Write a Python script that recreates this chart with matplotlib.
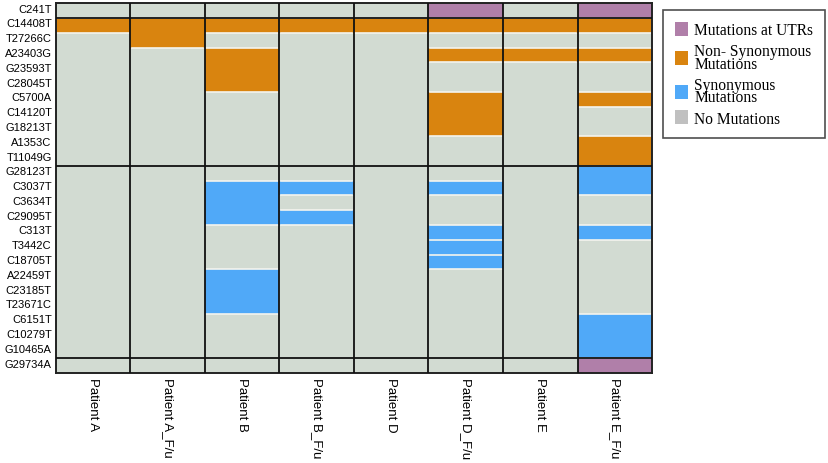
import matplotlib
matplotlib.use('Agg')
import matplotlib.pyplot as plt
from matplotlib.colors import ListedColormap
from matplotlib.patches import Patch
import numpy as np

mutations = ['C241T', 'C14408T', 'T27266C', 'A23403G', 'G23593T', 'C28045T',
             'C5700A', 'C14120T', 'G18213T', 'A1353C', 'T11049G', 'G28123T',
             'C3037T', 'C3634T', 'C29095T', 'C313T', 'T3442C', 'C18705T',
             'A22459T', 'C23185T', 'T23671C', 'C6151T', 'C10279T', 'G10465A',
             'G29734A']
patients = ['Patient A', 'Patient A_F/u', 'Patient B', 'Patient B_F/u',
            'Patient D', 'Patient D_F/u', 'Patient E', 'Patient E_F/u']

# U = UTR, N = non-synonymous, S = synonymous, . = none (top to bottom)
status = {
    'Patient A':     '.N.......................',
    'Patient A_F/u': '.NN......................',
    'Patient B':     '.N.NNN......SSS...SSS....',
    'Patient B_F/u': '.N..........S.S..........',
    'Patient D':     '.N.......................',
    'Patient D_F/u': 'UN.N..NNN...S..SSS.......',
    'Patient E':     '.N.N.....................',
    'Patient E_F/u': 'UN.N..N..NNSS..S.....SSSU',
}
group_breaks = [1, 11, 24]

codes = {'.': 0, 'U': 1, 'N': 2, 'S': 3}
colors = ['#d2dbd2', '#b07fa9', '#d9840f', '#50a9f8']

mat = np.array([[codes[ch] for ch in status[p]] for p in patients]).T

fig = plt.figure(figsize=(8.29, 4.64), dpi=100)
ax = fig.add_axes([0.0675, 0.194, 0.719, 0.797])
ax.pcolormesh(np.arange(len(patients) + 1), np.arange(len(mutations) + 1), mat,
              cmap=ListedColormap(colors), vmin=-0.5, vmax=3.5)
ax.set_xlim(0, len(patients))
ax.set_ylim(len(mutations), 0)

# light separators where a cell changes colour
for c in range(len(patients)):
    for r in range(len(mutations) - 1):
        if mat[r, c] != mat[r + 1, c] or mat[r, c] == 3 and c == 5:
            ax.plot([c + 0.02, c + 0.98], [r + 1, r + 1], color='#f4f4ee', lw=1.2, zorder=2)

for c in range(1, len(patients)):
    ax.axvline(c, color='#111111', lw=1.3, zorder=3)
for r in group_breaks:
    ax.axhline(r, color='#111111', lw=1.3, zorder=3)

for s in ax.spines.values():
    s.set_color('#222222')
    s.set_linewidth(1.4)

ax.set_xticks(np.arange(len(patients)) + 0.5)
ax.set_xticklabels(patients, rotation=270, fontsize=9.5, family='Liberation Sans',
                   va='top', ha='center')
ax.set_yticks(np.arange(len(mutations)) + 0.3)
ax.set_yticklabels(mutations, fontsize=8, family='Liberation Sans')
ax.tick_params(length=0, pad=3)

handles = [Patch(facecolor='#b07fa9', edgecolor='none', label='Mutations at UTRs'),
           Patch(facecolor='#d9840f', edgecolor='none', label='Non- Synonymous\nMutations'),
           Patch(facecolor='#50a9f8', edgecolor='none', label='Synonymous\nMutations'),
           Patch(facecolor='#c0c0c0', edgecolor='none', label='No Mutations')]
leg = fig.legend(handles=handles, loc='upper left', bbox_to_anchor=(0.800, 0.976),
                 bbox_transform=fig.transFigure, frameon=True, fancybox=False,
                 prop={'family': 'Liberation Serif', 'size': 11.2},
                 handlelength=0.85, handleheight=1.0, handletextpad=0.4,
                 labelspacing=0.32, borderpad=0.75, borderaxespad=0)
leg.get_frame().set_edgecolor('#222222')
leg.get_frame().set_linewidth(1.2)
for t in leg.get_texts():
    t.set_linespacing(0.72)

fig.savefig('out.png', dpi=100)
